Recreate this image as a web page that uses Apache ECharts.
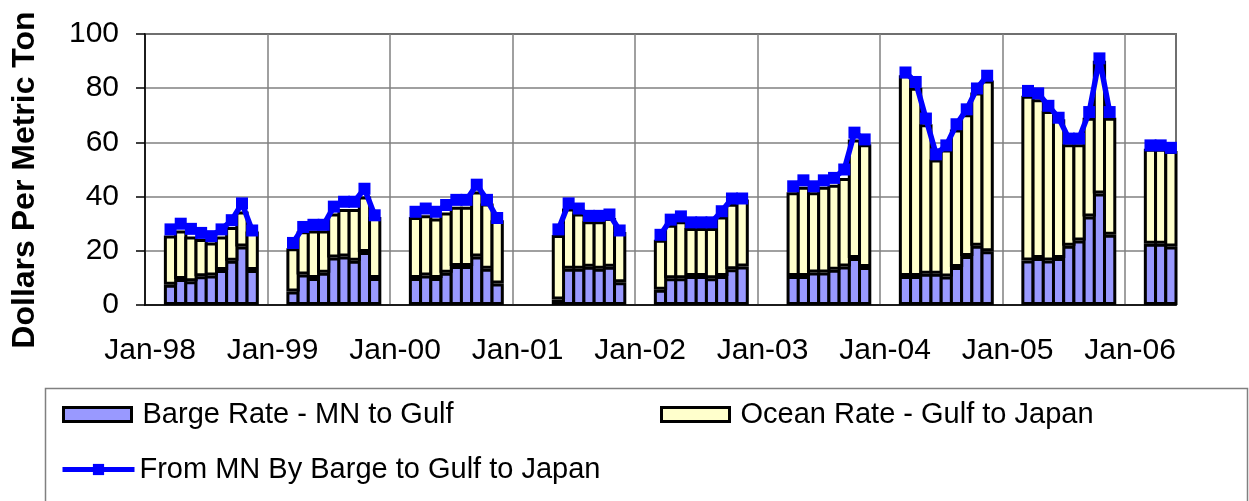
<!DOCTYPE html>
<html>
<head>
<meta charset="utf-8">
<script src="https://cdn.jsdelivr.net/npm/echarts@6/dist/echarts.min.js"></script>
<style>
  html, body { margin: 0; padding: 0; background: #fff; }
  #chart { width: 1249px; height: 501px; }
</style>
</head>
<body>
<div id="chart"></div>
<script>
// month / year labels for the category axis (Jan-98 .. May-06)
const monthNames = ['Jan', 'Feb', 'Mar', 'Apr', 'May', 'Jun', 'Jul', 'Aug', 'Sep', 'Oct', 'Nov', 'Dec'];
const yearLabels = ['98', '99', '00', '01', '02', '03', '04', '05', '06'];
const monthsInLastYear = 5;

// first month with data in each year (0 = Jan)
const seasonStart = [2, 2, 2, 4, 2, 3, 2, 2, 2];

// Barge Rate - MN to Gulf ($/metric ton), one list per year
const bargeRate = [
  [7.5, 9.6, 8.8, 10.6, 10.9, 12.9, 16.3, 21.6, 12.9],
  [5.0, 11.3, 10.0, 11.9, 17.5, 17.9, 16.3, 19.6, 10.0],
  [10.0, 10.9, 10.0, 11.9, 14.4, 14.4, 17.9, 13.4, 7.9],
  [2.0, 13.4, 13.4, 14.1, 13.4, 14.1, 8.4],
  [5.6, 9.9, 9.9, 10.7, 10.7, 9.9, 10.7, 13.2, 14.2],
  [10.7, 10.7, 12.0, 12.0, 13.0, 14.2, 17.3, 14.0],
  [10.7, 10.7, 11.5, 11.5, 10.5, 14.0, 18.1, 21.9, 19.8],
  [16.4, 17.3, 16.4, 17.3, 21.9, 23.8, 32.7, 41.1, 25.9],
  [22.6, 22.6, 21.6]
];

// Ocean Rate - Gulf to Japan
const oceanRate = [
  [18.1, 17.9, 16.5, 13.8, 12.2, 12.4, 12.5, 12.9, 14.2],
  [15.9, 15.9, 17.5, 15.6, 16.3, 17.5, 19.1, 20.4, 22.5],
  [22.5, 22.2, 21.9, 22.2, 21.9, 21.9, 24.0, 24.1, 23.4],
  [23.8, 22.2, 20.4, 16.8, 17.5, 18.0, 18.5],
  [18.5, 19.7, 21.0, 17.7, 17.7, 18.5, 22.0, 24.2, 24.7],
  [30.9, 32.9, 29.6, 31.6, 31.4, 32.7, 43.8, 45.3],
  [74.1, 69.5, 55.2, 42.2, 46.9, 50.8, 52.3, 56.5, 63.0],
  [60.8, 58.6, 55.2, 51.2, 37.4, 35.5, 36.4, 49.0, 43.2],
  [35.1, 35.1, 35.2]
];

// From MN By Barge to Gulf to Japan
const throughRate = [
  [27.9, 30.0, 28.1, 26.6, 25.4, 27.9, 31.3, 37.5, 27.5],
  [22.9, 28.8, 29.6, 29.6, 36.3, 38.1, 38.1, 42.9, 33.1],
  [34.4, 35.6, 34.4, 36.9, 38.8, 38.8, 44.4, 38.8, 32.1],
  [27.9, 37.5, 35.6, 32.9, 32.9, 33.4, 27.5],
  [25.9, 31.5, 32.7, 30.5, 30.5, 30.5, 34.6, 39.3, 39.3],
  [43.8, 46.0, 43.8, 46.0, 46.9, 50.0, 63.6, 61.1],
  [85.8, 82.3, 68.8, 55.6, 58.9, 66.7, 72.2, 79.9, 84.6],
  [79.0, 78.1, 73.5, 69.1, 61.4, 61.4, 71.2, 91.0, 71.2],
  [58.9, 58.9, 58.0]
];

const yTicks = { min: 0, max: 100, step: 20 };

// build the monthly axis
const categories = [];
yearLabels.forEach((yr, i) => {
  const n = i === yearLabels.length - 1 ? monthsInLastYear : 12;
  for (let m = 0; m < n; m++) categories.push(monthNames[m] + '-' + yr);
});

// spread the yearly lists onto the monthly axis, null in the gaps
function toMonthly(perYear) {
  const out = categories.map(() => null);
  perYear.forEach((vals, i) => {
    vals.forEach((v, j) => { out[i * 12 + seasonStart[i] + j] = v; });
  });
  return out;
}

const font = 'Arial, "Liberation Sans", sans-serif';
const chart = echarts.init(document.getElementById('chart'));

// bars touch each other in the original; echarts pulls the border inside the bar,
// so widen the bar a little to close the gaps
const barStyle = { barWidth: '130%', barCategoryGap: '0%' };

chart.setOption({
  animation: false,
  backgroundColor: '#fff',
  textStyle: { fontFamily: font },
  grid: {
    left: 145, right: 73, top: 34, bottom: 196,
    show: true, borderColor: '#000', borderWidth: 1.5
  },
  xAxis: {
    type: 'category',
    data: categories,
    boundaryGap: true,
    axisLine: { lineStyle: { color: '#000', width: 1.5 } },
    axisTick: { interval: 11, length: 9, lineStyle: { color: '#808080', width: 1.5 } },
    axisLabel: { interval: 11, margin: 31, fontSize: 30, color: '#000', fontFamily: font },
    splitLine: { show: true, interval: 11, lineStyle: { color: '#808080', width: 1.5 } }
  },
  yAxis: {
    type: 'value',
    min: yTicks.min, max: yTicks.max, interval: yTicks.step,
    axisLine: { show: true, lineStyle: { color: '#000', width: 1.5 } },
    axisTick: { show: true, length: 9, lineStyle: { color: '#000', width: 1.5 } },
    axisLabel: { margin: 26, fontSize: 30, color: '#000', fontFamily: font },
    splitLine: { show: true, lineStyle: { color: '#808080', width: 1.5 } }
  },
  legend: [
    {
      data: ['Barge Rate - MN to Gulf'], left: 57, top: 395,
      icon: 'rect', itemWidth: 68, itemHeight: 14,
      itemStyle: { borderColor: '#000', borderWidth: 3 },
      textStyle: { fontSize: 29, color: '#000', fontFamily: font, padding: [0, 0, 0, 6] }
    },
    {
      data: ['Ocean Rate - Gulf to Japan'], left: 655, top: 395,
      icon: 'rect', itemWidth: 68, itemHeight: 14,
      itemStyle: { borderColor: '#000', borderWidth: 3 },
      textStyle: { fontSize: 29, color: '#000', fontFamily: font, padding: [0, 0, 0, 6] }
    },
    {
      data: ['From MN By Barge to Gulf to Japan'], left: 55, top: 450,
      itemWidth: 72, itemHeight: 14,
      lineStyle: { color: '#0000FF', width: 5 },
      itemStyle: { color: '#0000FF' },
      textStyle: { fontSize: 29, color: '#000', fontFamily: font }
    }
  ],
  graphic: [
    {
      type: 'text', x: 25, y: 180, rotation: Math.PI / 2, silent: true,
      style: {
        text: 'Dollars Per Metric Ton', fill: '#000',
        font: 'bold 32px ' + font, align: 'center', verticalAlign: 'middle'
      }
    },
    {
      type: 'rect', left: 43, top: 386, silent: true,
      shape: { width: 1202, height: 130 },
      style: { fill: 'none', stroke: '#808080', lineWidth: 1.5 }
    }
  ],
  series: [
    Object.assign({
      name: 'Barge Rate - MN to Gulf',
      type: 'bar', stack: 'rate',
      data: toMonthly(bargeRate),
      itemStyle: { color: '#9999FF', borderColor: '#000', borderWidth: 3 }
    }, barStyle),
    Object.assign({
      name: 'Ocean Rate - Gulf to Japan',
      type: 'bar', stack: 'rate',
      data: toMonthly(oceanRate),
      itemStyle: { color: '#FFFFCC', borderColor: '#000', borderWidth: 3 }
    }, barStyle),
    {
      name: 'From MN By Barge to Gulf to Japan',
      type: 'line',
      data: toMonthly(throughRate),
      showAllSymbol: true,
      symbol: 'rect', symbolSize: 12,
      lineStyle: { color: '#0000FF', width: 5.5 },
      itemStyle: { color: '#0000FF' },
      z: 5
    }
  ]
});
</script>
</body>
</html>
